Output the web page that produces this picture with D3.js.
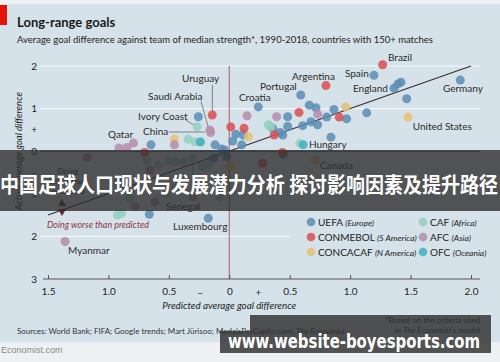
<!DOCTYPE html>
<html><head><meta charset="utf-8">
<script src="https://cdn.jsdelivr.net/npm/d3@7"></script>
<style>body{margin:0;background:#fff} svg{display:block}</style>
</head><body>
<svg id="c" width="500" height="362"></svg>
<script>
// ---------- data ----------
const xTicks = [-1.5, -1, -0.5, 0, 0.5, 1, 1.5, 2];
const xTickLabels = ["1.5", "1.0", "0.5", "0", "0.5", "1.0", "1.5", "2.0"];
const yTicks = [2, 1, 0, -1, -2, -3];
const yTickLabels = ["2", "1", "0", "1", "2", "3"];
const confederations = ["UEFA", "CONMEBOL", "CONCACAF", "CAF", "AFC", "OFC"];
const regions = ["Europe", "S America", "N America", "Africa", "Asia", "Oceania"];
const colors = ["#5b8cb4", "#dc4c50", "#e8bf73", "#92d0bf", "#b58cad", "#3fb1be"];

const uefa = [[1.197,1.78],[1.363,1.48],[1.396,1.58],[1.42,1.62],[1.911,1.67],[1.468,1.23],[1.137,0.90],
  [0.866,0.98],[0.971,0.76],[0.806,0.80],[0.841,0.33],[0.24,1.04],[0.591,1.32],[0.483,0.81],[0.662,1.08],
  [0.717,1.02],[0.483,0.58],[0.607,0.60],[0.676,0.69],[0.731,0.62],[0.359,0.54],[0.442,0.38],[0.42,0.44],
  [0.117,0.38],[0.055,0.40],[0.028,0.24],[0.103,0.15],[-0.118,0.15],[-0.256,0.81],[-0.648,0.15],
  [-0.04,0.03],[-0.174,-1.575],[-0.662,-1.48],[-0.91,-0.68],[-0.132,-0.17],[-0.063,0.05],[0.448,-0.07],[-0.02,-0.13]];
const conmebol = [[1.269,2.03],[0.80,1.54],[0.577,0.91],[0.91,0.80],[-0.141,0.85],[0.012,0.57],[0.122,0.54],
  [0.372,0.38],[-0.70,-0.03],[0.276,-0.28],[0.44,-0.03]];
const concacaf = [[1.479,0.80],[0.963,1.04],[0.157,0.34],[-0.454,0.28],[0.709,-0.21],[0.006,-0.36]];
const caf = [[-0.265,0.575],[-0.34,0.28],[-0.284,0.22],[-0.237,0.21],[0.323,0.62],[0.343,0.575],[0.585,0.185],
  [-0.926,-1.50],[-0.89,-1.46],[-0.683,-0.21],[-0.587,-0.32],[-0.505,-0.21],[-0.45,-0.25],[-0.38,-0.25],
  [-0.31,-0.17],[-0.228,-0.36],[-0.174,-0.32],[-0.82,-1.11],[-0.518,-1.01],[-0.435,-0.87],[-0.077,-1.07]];
const afc = [[-0.16,0.50],[-0.154,0.44],[-0.913,0.075],[-0.846,0.087],[-0.793,0.19],[-0.454,0.15],[0.147,0.83],
  [0.392,0.81],[0.731,0.87],[-1.359,-2.12],[-0.78,-1.30],[-0.615,-1.19],[-1.175,-0.15],[-0.656,-0.44],[-0.298,-1.07]];
const ofc = [[0.612,0.15],[-0.24,0.22]];
const seriesList = [uefa, conmebol, concacaf, caf, afc, ofc];

const labelNames = ["Uruguay","Saudi Arabia","Ivory Coast","China","Qatar","Croatia","Portugal","Argentina","Spain",
  "Brazil","England","Germany","United States","Hungary","Canada","Senegal","Luxembourg","Myanmar"];
const labelX = [-0.391,-0.672,-0.755,-0.714,-1.003,0.08,0.254,0.519,0.957,1.313,1.023,1.768,1.518,0.659,0.75,-0.523,-0.465,-1.334];
const labelY = [1.62,1.20,0.73,0.38,0.31,1.18,1.44,1.67,1.74,2.12,1.39,1.39,0.50,0.075,-0.42,-1.38,-1.85,-2.42];

// leader lines: [x1,y1,x2,y2] in data units
const leaders = [[-0.14,1.56,-0.14,0.95],[-0.235,1.18,-0.175,0.57],[-0.36,0.73,-0.29,0.61],[-0.50,0.45,-0.20,0.45],[-0.30,-1.15,-0.30,-0.23]];
const fitLine = [[-1.5,-1.5],[2.0,2.0]];

// ---------- drawing ----------
const svg = d3.select("#c");
const x = d3.scaleLinear().domain([-1.5, 2.0]).range([48, 471]);
const y = d3.scaleLinear().domain([-3, 2]).range([279, 66]);
const F = "Lato, 'Open Sans', sans-serif";

svg.append("rect").attr("width",500).attr("height",362).attr("fill","#d6e2e9");
svg.append("rect").attr("width",500).attr("height",4).attr("fill","#eef2f4");
svg.append("rect").attr("y",342).attr("width",500).attr("height",20).attr("fill","#eef1f3");
svg.append("rect").attr("x",0).attr("y",5).attr("width",7).attr("height",20).attr("fill","#e3120b");

svg.append("text").attr("x",17).attr("y",27).attr("font-family",F).attr("font-weight","bold")
  .attr("font-size",13).attr("fill","#1a1a1a").text("Long-range goals");
svg.append("text").attr("x",17).attr("y",43).attr("font-family",F).attr("font-size",9.6)
  .attr("fill","#222").attr("textLength",416).attr("lengthAdjust","spacingAndGlyphs")
  .text("Average goal difference against team of median strength*, 1990-2018, countries with 150+ matches");

// gridlines
const g = svg.append("g");
[2,1,-1].forEach(v => g.append("line").attr("x1",40).attr("x2",480).attr("y1",y(v)).attr("y2",y(v))
  .attr("stroke","#f4f7f9").attr("stroke-width",1.2));
g.append("line").attr("x1",40).attr("x2",290).attr("y1",y(-2)).attr("y2",y(-2)).attr("stroke","#f4f7f9").attr("stroke-width",1.2);
g.append("line").attr("x1",40).attr("x2",480).attr("y1",y(0)).attr("y2",y(0)).attr("stroke","#3d3d3d").attr("stroke-width",1);
g.append("line").attr("x1",x(0)).attr("x2",x(0)).attr("y1",y(2)).attr("y2",y(-3)).attr("stroke","#b9707e").attr("stroke-width",1.2);

// x axis
const xAxis = d3.axisBottom(x).tickValues(xTicks).tickSize(-4).tickPadding(9)
  .tickFormat((d,i) => xTickLabels[i]);
const xa = svg.append("g").attr("transform",`translate(0,${y(-3)})`).call(xAxis);
xa.select(".domain").attr("d",`M43,0H480`).attr("stroke","#555");
xa.selectAll(".tick line").attr("stroke","#555");
xa.selectAll("text").attr("font-family",F).attr("font-size",10).attr("fill","#222");
[[-0.24,"–"],[0.24,"+"]].forEach(([v,t]) => svg.append("text").attr("x",x(v)).attr("y",y(-3)+17)
  .attr("text-anchor","middle").attr("font-family",F).attr("font-size",10).attr("fill","#222").text(t));
svg.append("text").attr("x",x(0)).attr("y",309).attr("text-anchor","middle").attr("font-family",F)
  .attr("font-style","italic").attr("font-size",9.8).attr("fill","#222").text("Predicted average goal difference");

// y axis labels
yTicks.forEach((v,i) => svg.append("text").attr("x",37).attr("y",y(v)+3.5).attr("text-anchor","end")
  .attr("font-family",F).attr("font-size",10).attr("fill","#222").text(yTickLabels[i]));
[[0.5,"+"],[-0.5,"–"]].forEach(([v,t]) => svg.append("text").attr("x",37).attr("y",y(v)+3.5).attr("text-anchor","end")
  .attr("font-family",F).attr("font-size",10).attr("fill","#222").text(t));
svg.append("text").attr("transform",`translate(22,${y(0)}) rotate(-90)`).attr("text-anchor","middle")
  .attr("font-family",F).attr("font-style","italic").attr("font-size",9.5).attr("fill","#222")
  .text("Actual average goal difference");

// fit line
svg.append("line").attr("x1",x(fitLine[0][0])).attr("y1",y(fitLine[0][1]))
  .attr("x2",x(fitLine[1][0])).attr("y2",y(fitLine[1][1])).attr("stroke","#3a2a30").attr("stroke-width",1.1);

// leader lines
leaders.forEach(l => svg.append("line").attr("x1",x(l[0])).attr("y1",y(l[1])).attr("x2",x(l[2])).attr("y2",y(l[3]))
  .attr("stroke","#6b6b6b").attr("stroke-width",0.8));

// points
seriesList.forEach((s,i) => {
  svg.append("g").selectAll("circle").data(s).join("circle")
    .attr("cx",d => x(d[0])).attr("cy",d => y(d[1])).attr("r",4.5)
    .attr("fill",colors[i]).attr("fill-opacity",0.85);
});

// labels
labelNames.forEach((n,i) => svg.append("text").attr("x",x(labelX[i])).attr("y",y(labelY[i]))
  .attr("font-family",F).attr("font-size",10).attr("fill","#2a2a2a").text(n));

// annotations
const ann = svg.append("g").attr("font-family",F).attr("font-style","italic").attr("font-size",8.5);
["Doing","better than","predicted"].forEach((t,i) => ann.append("text").attr("x",68).attr("y",174+i*10)
  .attr("text-anchor","middle").attr("fill","#333").text(t));
ann.append("text").attr("x",47).attr("y",228).attr("fill","#8e3445").attr("font-size",9.5)
  .attr("textLength",102).attr("lengthAdjust","spacingAndGlyphs").text("Doing worse than predicted");
svg.append("path").attr("d",`M62,199L58,206L66,206Z M58,209L66,209L62,216Z`).attr("fill","#6b1f2c");

// legend
const leg = svg.append("g").attr("font-family",F).attr("font-size",10).attr("fill","#222");
confederations.forEach((c,i) => {
  const col = Math.floor(i/3), row = i%3;
  const lx = 311 + col*112, ly = 222 + row*15;
  leg.append("circle").attr("cx",lx).attr("cy",ly).attr("r",4.3).attr("fill",colors[i]).attr("fill-opacity",0.85);
  const t = leg.append("text").attr("x",lx+7).attr("y",ly+3.5);
  t.append("tspan").text(c + " ");
  t.append("tspan").attr("font-style","italic").attr("font-size",8.5).text("(" + regions[i] + ")");
});

// sources
const src = svg.append("text").attr("x",17).attr("y",334).attr("font-family",F).attr("font-size",8).attr("fill","#333");
src.append("tspan").text("Sources: World Bank; FIFA; Google trends; Mart Jürisoo; MedalsPerCapita.com; ");
src.append("tspan").attr("font-style","italic").text("The Economist");
svg.append("text").attr("x",480).attr("y",323).attr("text-anchor","end").attr("font-family",F).attr("font-size",8)
  .attr("fill","#333").text("*Based on the criteria used");
const n2 = svg.append("text").attr("x",480).attr("y",333).attr("text-anchor","end").attr("font-family",F).attr("font-size",8).attr("fill","#333");
n2.append("tspan").text("in ");
n2.append("tspan").attr("font-style","italic").text("The Economist's");
n2.append("tspan").text(" model");
svg.append("text").attr("x",1).attr("y",353).attr("font-family","'Liberation Sans', Arial, sans-serif").attr("font-size",9)
  .attr("fill","#888").text("Economist.com");

// overlay banner
svg.append("rect").attr("x",0).attr("y",150).attr("width",500).attr("height",61).attr("fill","#2e2e2e").attr("fill-opacity",0.8);
svg.append("text").attr("x",0).attr("y",192).attr("font-family","'Noto Sans CJK SC', sans-serif").attr("font-weight","bold")
  .attr("font-size",21).attr("fill","#fff").attr("textLength",498).attr("lengthAdjust","spacingAndGlyphs")
  .text("中国足球人口现状与发展潜力分析 探讨影响因素及提升路径");

// watermark
svg.append("path").attr("d","M250,315H491V353H220V331H250Z").attr("fill","#2e2e2e").attr("fill-opacity",0.82);
svg.append("text").attr("x",228).attr("y",348).attr("font-family","'DejaVu Sans', sans-serif").attr("font-weight","bold")
  .attr("font-size",19).attr("fill","#fff").attr("textLength",252).attr("lengthAdjust","spacingAndGlyphs")
  .text("www.website-boyesports.com");
</script>
</body></html>
